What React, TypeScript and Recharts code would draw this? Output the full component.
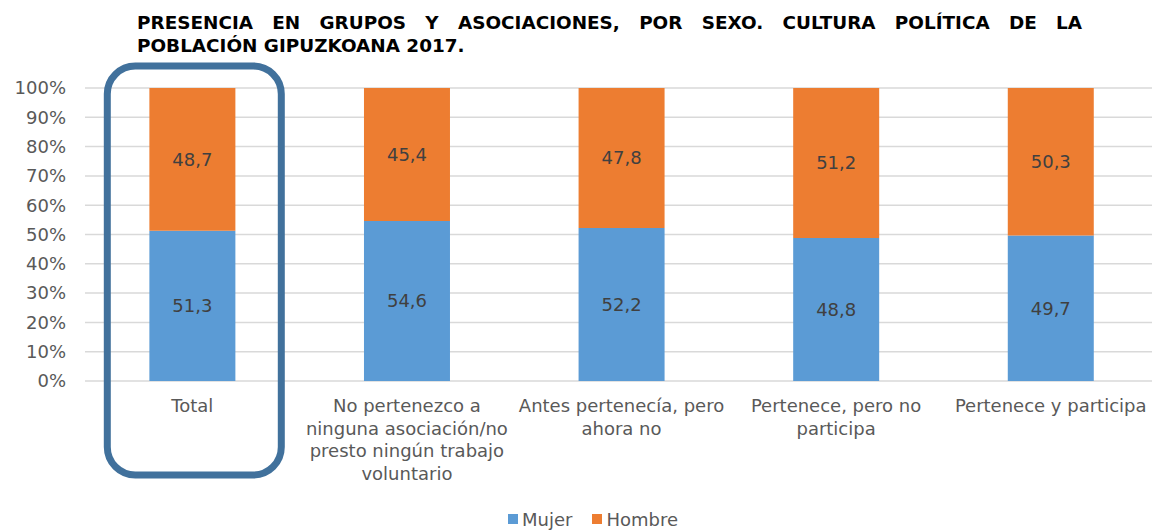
import React from 'react';
import { Bar, BarChart, CartesianGrid, LabelList, Legend, ReferenceArea, XAxis, YAxis } from 'recharts';

const categories = [
  'Total',
  'No pertenezco a ninguna asociación/no presto ningún trabajo voluntario',
  'Antes pertenecía, pero ahora no',
  'Pertenece, pero no participa',
  'Pertenece y participa',
];

// category labels as they wrap in the original
const tickLines = [
  ['Total'],
  ['No pertenezco a', 'ninguna asociación/no', 'presto ningún trabajo', 'voluntario'],
  ['Antes pertenecía, pero', 'ahora no'],
  ['Pertenece, pero no', 'participa'],
  ['Pertenece y participa'],
];

const titleLines = [
  'PRESENCIA EN GRUPOS Y ASOCIACIONES, POR SEXO. CULTURA POLÍTICA DE LA',
  'POBLACIÓN GIPUZKOANA 2017.',
];

const mujer = [51.3, 54.6, 52.2, 48.8, 49.7];
const hombre = [48.7, 45.4, 47.8, 51.2, 50.3];

const yTicks = [0, 10, 20, 30, 40, 50, 60, 70, 80, 90, 100];

const font = '"DejaVu Sans", Verdana, sans-serif';
const blue = '#5b9bd5';
const orange = '#ed7d31';

const rows = categories.map((name, i) => ({ name, mujer: mujer[i], hombre: hombre[i] }));

const fmt = (v: any) => Number(v).toFixed(1).replace('.', ',');

function CategoryTick({ x, y, payload }: any) {
  const lines = tickLines[payload.index] ?? [payload.value];
  return (
    <text x={x} y={y + 31} textAnchor="middle" fill="#595959" fontSize={18} fontFamily={font}>
      {lines.map((line, i) => (
        <tspan key={i} x={x} dy={i === 0 ? 0 : 22.7}>
          {line}
        </tspan>
      ))}
    </text>
  );
}

function HighlightBox({ x, y, width, height }: any) {
  const cx = x + width / 2 + 2;
  return (
    <rect
      x={cx - 87}
      y={y - 22}
      width={174}
      height={height + 116}
      rx={28}
      ry={28}
      fill="none"
      stroke="#41719c"
      strokeWidth={7}
    />
  );
}

function LegendContent() {
  const items = [
    { label: 'Mujer', color: blue },
    { label: 'Hombre', color: orange },
  ];
  return (
    <div style={{ display: 'flex', alignItems: 'center', height: 24, gap: 20, fontFamily: font, fontSize: 18, color: '#595959' }}>
      {items.map((it) => (
        <span key={it.label} style={{ display: 'flex', alignItems: 'center', gap: 4 }}>
          <span style={{ width: 10, height: 10, background: it.color, display: 'inline-block' }} />
          {it.label}
        </span>
      ))}
    </div>
  );
}

export default function App() {
  return (
    <div style={{ position: 'absolute', left: 0, top: 0, width: 1152, height: 531, overflow: 'hidden', background: '#fff' }}>
      <div
        style={{
          position: 'absolute',
          left: 137,
          top: 11,
          width: 945,
          fontFamily: font,
          fontWeight: 'bold',
          fontSize: 18.4,
          lineHeight: '23px',
          color: '#000',
        }}
      >
        <div style={{ textAlign: 'justify', textAlignLast: 'justify' }}>{titleLines[0]}</div>
        <div>{titleLines[1]}</div>
      </div>
      <BarChart width={1158} height={531} data={rows} margin={{ top: 88, right: 0, left: 0, bottom: 0 }} barCategoryGap="30%">
        <CartesianGrid vertical={false} stroke="#d9d9d9" strokeWidth={1.5} />
        <XAxis dataKey="name" axisLine={false} tickLine={false} tickSize={0} tickMargin={0} height={126} interval={0} tick={<CategoryTick />} />
        <YAxis
          domain={[0, 100]}
          ticks={yTicks}
          width={85}
          axisLine={false}
          tickLine={false}
          tickSize={6}
          tickMargin={13}
          tickFormatter={(v) => `${v}%`}
          tick={{ fill: '#595959', fontSize: 18, fontFamily: font }}
        />
        <Legend verticalAlign="bottom" content={<LegendContent />} wrapperStyle={{ left: 508, width: 'auto', height: 24 }} />
        <Bar dataKey="mujer" name="Mujer" stackId="a" fill={blue} isAnimationActive={false}>
          <LabelList dataKey="mujer" position="center" formatter={fmt} fill="#404040" fontSize={18} fontFamily={font} />
        </Bar>
        <Bar dataKey="hombre" name="Hombre" stackId="a" fill={orange} isAnimationActive={false}>
          <LabelList dataKey="hombre" position="center" formatter={fmt} fill="#404040" fontSize={18} fontFamily={font} />
        </Bar>
        <ReferenceArea x1="Total" x2="Total" ifOverflow="visible" shape={<HighlightBox />} />
      </BarChart>
    </div>
  );
}
